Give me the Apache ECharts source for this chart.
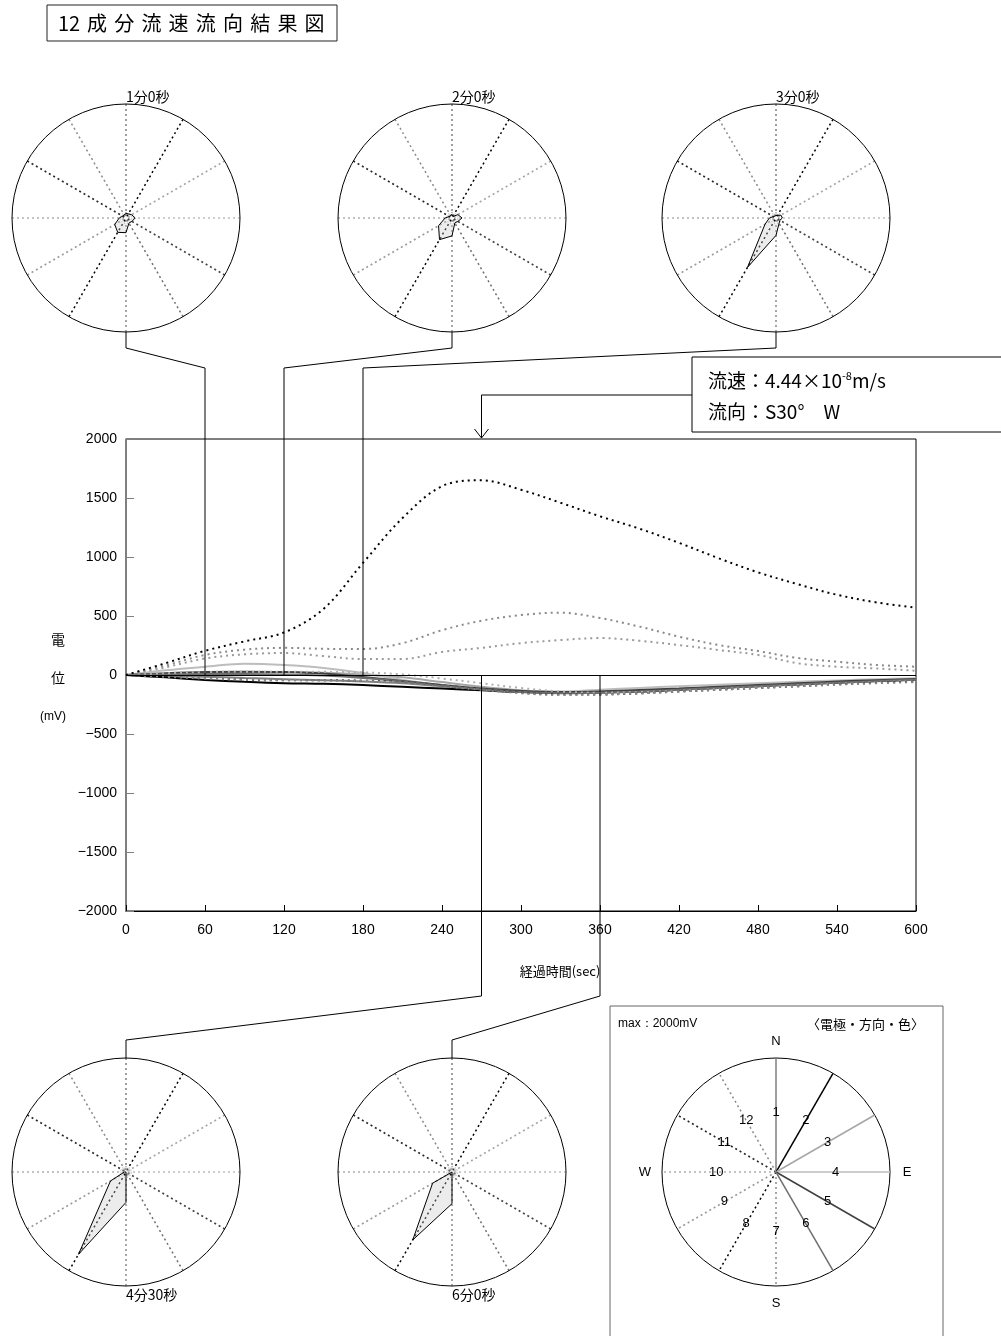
<!DOCTYPE html>
<html>
<head>
<meta charset="utf-8">
<script src="https://cdn.jsdelivr.net/npm/echarts@6/dist/echarts.min.js"></script>
<style>
html, body { margin: 0; padding: 0; background: #fff; }
#main { width: 1001px; height: 1336px; }
</style>
</head>
<body>
<div id="main"></div>
<script>
// elapsed time (sec)
const times = [0, 30, 60, 90, 120, 150, 180, 210, 240, 270, 300, 330, 360, 390, 420, 450, 480, 510, 540, 570, 600]
// potential per electrode (mV)
const e1 = [0, -8, -14, -25, -35, -45, -55, -70, -95, -120, -140, -150, -145, -135, -120, -105, -90, -75, -60, -48, -38]
const e2 = [0, -20, -42, -58, -70, -75, -85, -100, -115, -130, -145, -150, -148, -140, -125, -110, -95, -80, -65, -50, -40]
const e3 = [0, 10, 20, 25, 25, 20, 5, -20, -60, -100, -130, -145, -140, -130, -118, -102, -88, -72, -58, -45, -35]
const e4 = [0, 40, 70, 95, 85, 60, 17, -42, -85, -120, -140, -140, -125, -110, -95, -82, -70, -58, -46, -36, -28]
const e5 = [0, 15, 25, 28, 25, 12, -17, -50, -85, -115, -135, -145, -140, -128, -115, -100, -85, -70, -56, -44, -34]
const e6 = [0, 5, 8, 8, 5, -5, -25, -55, -90, -120, -145, -155, -150, -140, -125, -110, -95, -80, -65, -52, -40]
const e7 = [0, 80, 170, 215, 230, 222, 220, 270, 380, 460, 508, 528, 483, 410, 325, 254, 203, 144, 113, 85, 70]
const e8 = [0, 100, 205, 285, 360, 560, 950, 1330, 1600, 1650, 1570, 1460, 1345, 1240, 1120, 990, 870, 770, 680, 615, 570]
const e9 = [0, 65, 140, 175, 186, 160, 135, 135, 195, 230, 270, 296, 313, 290, 254, 212, 170, 100, 70, 55, 36]
const e10 = [0, 15, 25, 28, 28, 27, 22, 5, -30, -70, -110, -140, -150, -145, -135, -120, -105, -90, -75, -62, -50]
const e11 = [0, -15, -30, -40, -45, -45, -48, -60, -90, -120, -150, -165, -165, -155, -140, -125, -110, -95, -80, -65, -55]
const e12 = [0, -15, -30, -40, -42, -45, -50, -65, -95, -125, -155, -170, -165, -155, -140, -125, -110, -95, -82, -70, -60]
const electrodeValues = [e1, e2, e3, e4, e5, e6, e7, e8, e9, e10, e11, e12]
const electrodeNames = ['1', '2', '3', '4', '5', '6', '7', '8', '9', '10', '11', '12']
// electrode direction, degrees clockwise from N
const directions = [0, 30, 60, 90, 120, 150, 180, 210, 240, 270, 300, 330]
const compass = ['N', 'E', 'S', 'W']
// snapshot times shown as polar charts
const snapTimes = [60, 120, 180, 270, 360]
const snapLabels = ['1分0秒', '2分0秒', '3分0秒', '4分30秒', '6分0秒']
const flowSpeed = '4.44×10'
const flowDir = 'S30°　W'

const colors = ['#7f7f7f', '#000000', '#a6a6a6', '#bdbdbd', '#404040', '#6e6e6e',
                '#8a8a8a', '#000000', '#9a9a9a', '#b0b0b0', '#262626', '#8a8a8a']
const font = '"Liberation Sans", Arial, sans-serif'
const jp = '"Noto Sans CJK JP", sans-serif'
const R = 114
const rMin = -100, rMax = 2000
const polarCenters = [[126, 218], [452, 218], [776, 218], [126, 1172], [452, 1172], [776, 1172]]

const chart = echarts.init(document.getElementById('main'))

const polar = [], angleAxis = [], radiusAxis = [], series = []

polarCenters.forEach((c, i) => {
    polar.push({ center: c, radius: R })
    angleAxis.push({
        polarIndex: i, type: 'value', min: 0, max: 360, interval: 30,
        startAngle: 90, clockwise: true,
        axisLine: { lineStyle: { color: '#000', width: 1 } },
        axisTick: { show: false }, axisLabel: { show: false },
        splitLine: { show: i < 5, lineStyle: { color: colors, type: [2, 3], width: 1.5 } }
    })
    radiusAxis.push({ polarIndex: i, type: 'value', min: rMin, max: rMax, show: false })
})

// main time series
electrodeValues.forEach((vals, i) => {
    series.push({
        name: electrodeNames[i], type: 'line', xAxisIndex: 0, yAxisIndex: 0,
        smooth: 0.35, symbol: 'none', silent: true,
        z: i === 7 ? 5 : 3,
        data: times.map((t, k) => [t, vals[k]]),
        lineStyle: i < 6
            ? { color: colors[i], width: 2 }
            : { color: colors[i], width: 2, type: [2, 4] },
        markLine: i === 0 ? {
            symbol: 'none', silent: true, label: { show: false },
            lineStyle: { color: '#000', type: 'solid', width: 1 },
            data: [{ yAxis: 0 }]
        } : undefined
    })
})

// snapshot polars
snapTimes.forEach((t, p) => {
    const idx = times.indexOf(t)
    const pts = directions.map((a, i) => [Math.max(electrodeValues[i][idx], rMin), a])
    pts.push([pts[0][0], 360])
    series.push({
        type: 'line', coordinateSystem: 'polar', polarIndex: p, symbol: 'none', silent: true, z: 4,
        data: pts,
        lineStyle: { color: '#000', width: 1 },
        areaStyle: { color: 'rgba(200,200,200,0.5)' }
    })
    // zero ring
    const ring = []
    for (let a = 0; a <= 360; a += 15) ring.push([0, a])
    series.push({
        type: 'line', coordinateSystem: 'polar', polarIndex: p, symbol: 'none', silent: true, smooth: true,
        data: ring, lineStyle: { color: '#999', width: 1, type: [1, 2] }
    })
})

// legend polar: electrode directions
directions.forEach((a, i) => {
    series.push({
        type: 'line', coordinateSystem: 'polar', polarIndex: 5, symbol: 'none', silent: true,
        data: [[rMin, a], [rMax, a]],
        lineStyle: i < 6 ? { color: colors[i], width: 1.5 } : { color: colors[i], width: 1.5, type: [2, 3] }
    })
})
series.push({
    type: 'scatter', coordinateSystem: 'polar', polarIndex: 5, symbolSize: 0, silent: true, z: 6,
    itemStyle: { opacity: 1 },
    data: directions.map((a, i) => ({ name: electrodeNames[i], value: [1000, a] })),
    label: {
        show: true, position: 'inside', formatter: '{b}', color: '#000', opacity: 1,
        textBorderWidth: 0, fontSize: 13, fontFamily: font
    }
})

chart.setOption({
    animation: false,
    textStyle: { fontFamily: font },
    grid: { left: 126, top: 439, width: 790, height: 472, show: true, borderColor: '#000', borderWidth: 1 },
    xAxis: {
        type: 'value', min: 0, max: 600, interval: 60,
        name: '経過時間(sec)', nameLocation: 'middle', nameGap: 54,
        nameTextStyle: { fontFamily: jp, fontSize: 13, color: '#000', padding: [0, 0, 0, 78] },
        axisLine: { onZero: false, lineStyle: { color: '#000' } },
        axisTick: { inside: true, length: 6, lineStyle: { color: '#000' } },
        axisLabel: { color: '#000', fontSize: 14, margin: 12 },
        splitLine: { show: false }
    },
    yAxis: {
        type: 'value', min: -2000, max: 2000, interval: 500,
        axisLine: { show: true, lineStyle: { color: '#808080', width: 1.5 } },
        axisTick: { show: true, inside: true, length: 8, lineStyle: { color: '#808080' } },
        axisLabel: { color: '#000', fontSize: 14, margin: 9, formatter: v => String(v).replace('-', '−') },
        splitLine: { show: false }
    },
    polar, angleAxis, radiusAxis, series
})

// decorations positioned from the axes
const px = t => chart.convertToPixel({ gridIndex: 0 }, [t, 0])
const graphic = []
const line = (points, extra) => graphic.push(Object.assign({
    type: 'polyline', silent: true, z: 10, shape: { points },
    style: { stroke: '#000', lineWidth: 1, fill: null }
}, extra || {}))

// title
graphic.push({ type: 'rect', silent: true, shape: { x: 47, y: 5, width: 290, height: 36 }, style: { stroke: '#222', lineWidth: 1, fill: '#fff' } })
const titleChars = ['12', '成', '分', '流', '速', '流', '向', '結', '果', '図']
titleChars.forEach((ch, i) => graphic.push({
    type: 'text', silent: true, x: i === 0 ? 58 : 87 + (i - 1) * 27.2, y: 23,
    style: { text: ch, font: '20px ' + jp, fill: '#000', textVerticalAlign: 'middle' }
}))

// snapshot labels + connectors
snapTimes.forEach((t, i) => {
    const [cx, cy] = polarCenters[i]
    const [x0, y0] = px(t)
    const top = i < 3
    graphic.push({
        type: 'text', silent: true, x: cx, y: top ? 97 : 1295,
        style: { text: snapLabels[i], font: '14px ' + jp, fill: '#000', textVerticalAlign: 'middle' }
    })
    if (top) line([[cx, cy + R], [cx, 348], [x0, 368], [x0, y0]])
    else line([[x0, y0], [x0, 996], [cx, 1040], [cx, cy - R]])
})

// flow result box + arrow
const [ax] = px(270)
const gridTop = 439
graphic.push({ type: 'rect', silent: true, z: 9, shape: { x: 692, y: 357, width: 330, height: 75 }, style: { stroke: '#000', lineWidth: 1, fill: '#fff' } })
graphic.push({
    type: 'text', silent: true, z: 11, x: 708, y: 381,
    style: {
        text: '流速：' + flowSpeed + '{sup|-8}m/s', font: '19px ' + jp, fill: '#000', textVerticalAlign: 'middle',
        rich: { sup: { fontSize: 11, fontFamily: jp, padding: [0, 0, 10, 0] } }
    }
})
graphic.push({
    type: 'text', silent: true, z: 11, x: 708, y: 412,
    style: { text: '流向：' + flowDir, font: '19px ' + jp, fill: '#000', textVerticalAlign: 'middle' }
})
line([[692, 395], [ax, 395], [ax, gridTop - 1]])
line([[ax - 7, gridTop - 10], [ax, gridTop - 1], [ax + 7, gridTop - 10]])

// y axis title
graphic.push({ type: 'text', silent: true, x: 58, y: 640, style: { text: '電', font: '14px ' + jp, fill: '#000', textAlign: 'center', textVerticalAlign: 'middle' } })
graphic.push({ type: 'text', silent: true, x: 58, y: 678, style: { text: '位', font: '14px ' + jp, fill: '#000', textAlign: 'center', textVerticalAlign: 'middle' } })
graphic.push({ type: 'text', silent: true, x: 53, y: 717, style: { text: '(mV)', font: '12px ' + font, fill: '#000', textAlign: 'center', textVerticalAlign: 'middle' } })

// legend box
graphic.push({ type: 'rect', silent: true, z: -1, shape: { x: 610, y: 1006, width: 333, height: 340 }, style: { stroke: '#666', lineWidth: 1, fill: '#fff' } })
graphic.push({ type: 'text', silent: true, x: 618, y: 1024, style: { text: 'max：2000mV', font: '12px ' + font, fill: '#000', textVerticalAlign: 'middle' } })
graphic.push({ type: 'text', silent: true, x: 924, y: 1024, style: { text: '〈電極・方向・色〉', font: '13px ' + jp, fill: '#000', textAlign: 'right', textVerticalAlign: 'middle' } })
const [lcx, lcy] = polarCenters[5]
compass.forEach((c, i) => {
    const a = i * Math.PI / 2
    graphic.push({
        type: 'text', silent: true, x: lcx + Math.sin(a) * 131, y: lcy - Math.cos(a) * 131,
        style: { text: c, font: '13px ' + font, fill: '#000', textAlign: 'center', textVerticalAlign: 'middle' }
    })
})

chart.setOption({ graphic })
</script>
</body>
</html>
